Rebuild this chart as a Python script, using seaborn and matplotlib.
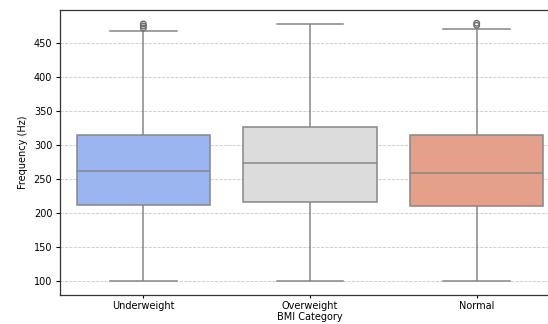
import matplotlib
matplotlib.use("Agg")
import matplotlib.pyplot as plt
import seaborn as sns
import pandas as pd

# Categories and five-number summaries
categories = ["Underweight", "Overweight", "Normal"]
whisker_low = [100, 100, 100]
q1 = [212, 216, 211]
median = [262, 274, 259]
q3 = [314, 326, 315]
whisker_high = [468, 478, 471]
# outliers above the upper whisker
outlier_cat = ["Underweight", "Underweight", "Underweight", "Normal", "Normal"]
outlier_val = [472, 475, 478, 476, 479]

rows = []
for c, a, b, m, d, e in zip(categories, whisker_low, q1, median, q3, whisker_high):
    for v in (a, b, m, d, e):
        rows.append({"BMI Category": c, "Frequency (Hz)": v})
df = pd.DataFrame(rows)
out_df = pd.DataFrame({"BMI Category": outlier_cat, "Frequency (Hz)": outlier_val})

fig = plt.figure(figsize=(5.48, 3.24), dpi=100)
ax = fig.add_axes([60 / 548, 29 / 324, 500 / 548, 285 / 324])

sns.boxplot(data=df, x="BMI Category", y="Frequency (Hz)", hue="BMI Category",
            order=categories, hue_order=categories, palette="coolwarm",
            whis=(0, 100), showfliers=False, linewidth=1.1, linecolor="#868686",
            ax=ax, legend=False)
sns.stripplot(data=out_df, x="BMI Category", y="Frequency (Hz)", order=categories,
              jitter=False, marker="o", size=4, facecolor="none",
              edgecolor="#6e6e6e", linewidth=1.0, color="none", ax=ax)

ax.set_ylim(79.5, 498.5)
ax.set_xlim(-0.5, 2.5)
ax.set_yticks([100, 150, 200, 250, 300, 350, 400, 450])
ax.grid(axis="y", linestyle="--", alpha=0.7, linewidth=0.6)
ax.set_axisbelow(True)
ax.tick_params(axis="x", labelsize=7, length=2.5, width=0.8, pad=1.5)
ax.tick_params(axis="y", labelsize=7, length=3, width=0.8, pad=2.5)
ax.set_xlabel("BMI Category", fontsize=7, labelpad=1)
ax.set_ylabel("Frequency (Hz)", fontsize=7, labelpad=4)
for s in ax.spines.values():
    s.set_color("#333333")
    s.set_linewidth(0.9)

fig.savefig("out.png", dpi=100)
